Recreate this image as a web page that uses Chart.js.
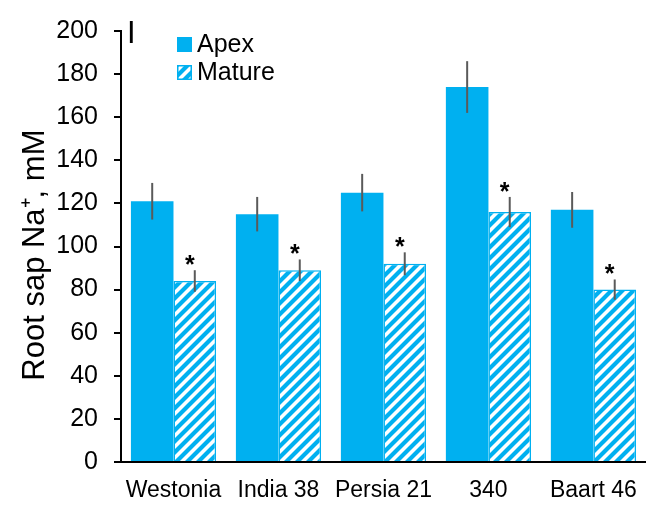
<!DOCTYPE html>
<html>
<head>
<meta charset="utf-8">
<script src="https://cdn.jsdelivr.net/npm/chart.js@4/dist/chart.umd.min.js"></script>
<style>
  html, body { margin: 0; padding: 0; background: #fff; overflow: hidden; }
  #wrap { position: relative; width: 652px; height: 505px; }
</style>
</head>
<body>
<div id="wrap"><canvas id="c" width="652" height="505"></canvas></div>
<script>
// Root sap Na+ concentration by cultivar, apex vs mature root zone
const categories = ['Westonia', 'India 38', 'Persia 21', '340', 'Baart 46'];
const apexValues = [121, 115, 125, 174, 117];
const apexErrors = [8.5, 8, 8.7, 12, 8.3];
const matureValues = [84, 89, 92, 116, 80];
const matureErrors = [5, 5, 5.3, 7, 4.7];
const matureSignificant = [true, true, true, true, true];
const yTicks = [0, 20, 40, 60, 80, 100, 120, 140, 160, 180, 200];
const panelLabel = 'I';

const BLUE = '#00B0F0';
const ERR = '#5a5a5a';
const FONT = "'Liberation Sans', Arial, sans-serif";

const canvas = document.getElementById('c');
const ctx = canvas.getContext('2d');

// white background with blue "/" stripes
function makeHatch(color) {
  const s = 11;
  const t = document.createElement('canvas');
  t.width = s; t.height = s;
  const g = t.getContext('2d');
  g.fillStyle = '#fff';
  g.fillRect(0, 0, s, s);
  g.strokeStyle = color;
  g.lineWidth = 4.2;
  g.beginPath();
  g.moveTo(0, s); g.lineTo(s, 0);
  g.moveTo(-s / 2, s / 2); g.lineTo(s / 2, -s / 2);
  g.moveTo(s / 2, s * 1.5); g.lineTo(s * 1.5, s / 2);
  g.stroke();
  return ctx.createPattern(t, 'repeat');
}
const hatch = makeHatch(BLUE);

const errorSets = [apexErrors, matureErrors];
const starSets = [null, matureSignificant];

const errorBarPlugin = {
  id: 'errorBars',
  afterDatasetsDraw(chart) {
    const c = chart.ctx;
    const yScale = chart.scales.y;
    chart.data.datasets.forEach((ds, i) => {
      const meta = chart.getDatasetMeta(i);
      const errs = errorSets[i];
      const stars = starSets[i];
      meta.data.forEach((el, j) => {
        const v = ds.data[j];
        const top = yScale.getPixelForValue(v + errs[j]);
        const bot = yScale.getPixelForValue(v - errs[j]);
        c.save();
        c.strokeStyle = ERR;
        c.lineWidth = 2;
        c.beginPath();
        c.moveTo(el.x, top);
        c.lineTo(el.x, bot);
        c.stroke();
        if (stars && stars[j]) {
          c.fillStyle = '#000';
          c.font = 'bold 25px ' + FONT;
          c.textAlign = 'center';
          c.textBaseline = 'alphabetic';
          c.fillText('*', el.x - 5, top + 3);
        }
        c.restore();
      });
    });
  }
};

const legendPlugin = {
  id: 'boxLegend',
  afterDraw(chart) {
    const c = chart.ctx;
    const x0 = 177, y0 = 37, box = 15, rowGap = 28;
    chart.data.datasets.forEach((ds, i) => {
      const y = y0 + i * rowGap;
      c.save();
      c.fillStyle = ds.backgroundColor;
      c.fillRect(x0, y, box, box);
      if (ds.borderWidth) {
        c.strokeStyle = ds.borderColor;
        c.lineWidth = 1.5;
        c.strokeRect(x0 + 0.75, y + 0.75, box - 1.5, box - 1.5);
      }
      c.fillStyle = '#000';
      c.font = '25px ' + FONT;
      c.textAlign = 'left';
      c.textBaseline = 'middle';
      c.fillText(ds.label, x0 + box + 5, y + box / 2 + 1);
      c.restore();
    });
    // panel letter
    c.save();
    c.fillStyle = '#000';
    c.font = '31px ' + FONT;
    c.textAlign = 'left';
    c.textBaseline = 'alphabetic';
    c.fillText(panelLabel, 127, 43);
    c.restore();
  }
};

new Chart(ctx, {
  type: 'bar',
  data: {
    labels: categories,
    datasets: [
      {
        label: 'Apex',
        data: apexValues,
        backgroundColor: BLUE,
        borderWidth: 0
      },
      {
        label: 'Mature',
        data: matureValues,
        backgroundColor: hatch,
        borderColor: BLUE,
        borderWidth: 1.5
      }
    ]
  },
  options: {
    responsive: false,
    animation: false,
    devicePixelRatio: 1,
    layout: { padding: { top: 20, right: 1, left: 0, bottom: 0 } },
    datasets: {
      bar: { categoryPercentage: 0.811, barPercentage: 1.0 }
    },
    plugins: {
      legend: { display: false },
      tooltip: { enabled: false }
    },
    scales: {
      x: {
        afterFit(s) { s.height = 43; },
        grid: { display: false, drawTicks: false },
        border: { display: true, color: '#000', width: 2 },
        ticks: {
          color: '#000',
          padding: 15,
          maxRotation: 0,
          autoSkip: false,
          font: { family: FONT, size: 23 }
        }
      },
      y: {
        min: 0,
        max: 200,
        afterFit(s) { s.width = 121; },
        afterBuildTicks(s) { s.ticks = yTicks.map(v => ({ value: v })); },
        grid: { drawOnChartArea: false, drawTicks: true, tickLength: 7, color: '#000', lineWidth: 2 },
        border: { display: true, color: '#000', width: 2 },
        ticks: {
          color: '#000',
          padding: 16,
          font: { family: FONT, size: 25 }
        },
        title: {
          display: true,
          text: 'Root sap Na\u207A, mM  ',
          color: '#000',
          font: { family: FONT, size: 31 },
          padding: { top: 17, bottom: 0 }
        }
      }
    }
  },
  plugins: [errorBarPlugin, legendPlugin]
});
</script>
</body>
</html>
